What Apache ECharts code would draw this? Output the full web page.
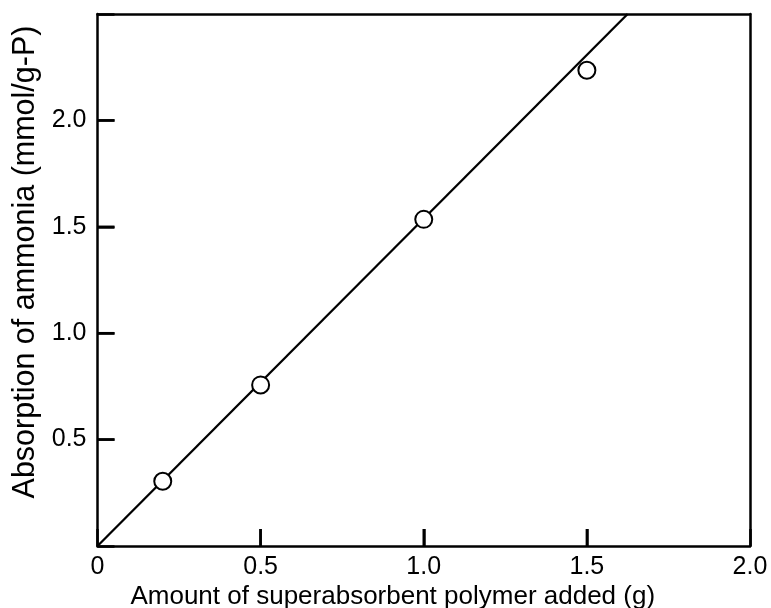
<!DOCTYPE html>
<html>
<head>
<meta charset="utf-8">
<script src="https://cdn.jsdelivr.net/npm/echarts@6/dist/echarts.min.js"></script>
<style>html,body{margin:0;padding:0;background:#fff}#c{width:771px;height:608px}</style>
</head>
<body>
<div id="c"></div>
<script>
var polymerAdded = [0.2, 0.5, 1.0, 1.5];
var ammoniaAbsorption = [0.304, 0.757, 1.535, 2.236];
var fitX = [0, 1.625];
var fitY = [0, 2.5];
var xTickValues = [0.5, 1.0, 1.5];
var yTickValues = [0.5, 1.0, 1.5, 2.0];
var xTickLabels = {0: '0', 0.5: '0.5', 1: '1.0', 1.5: '1.5', 2: '2.0'};
var yTickLabels = {0.5: '0.5', 1: '1.0', 1.5: '1.5', 2: '2.0'};

var font = 'Liberation Sans, Arial, sans-serif';
var lineW = 2.5;
var tickLen = 17;
var frameAxis = {
  type: 'value', min: 0, max: 2, interval: 0.5,
  axisLine: {show: true, onZero: false, lineStyle: {color: '#000', width: lineW}},
  axisTick: {show: false}, axisLabel: {show: false}, splitLine: {show: false}
};
var chart = echarts.init(document.getElementById('c'), null, {renderer: 'canvas'});
chart.setOption({
  animation: false,
  backgroundColor: '#fff',
  grid: {left: 97.5, right: 21, top: 14, bottom: 62,
         outerBounds: {left: -200, right: -200, top: -200, bottom: -200}},
  xAxis: [{
    type: 'value', min: 0, max: 2, interval: 0.5, position: 'bottom',
    name: 'Amount of superabsorbent polymer added (g)',
    nameLocation: 'middle', nameGap: 38, nameMoveOverlap: false,
    nameTextStyle: {fontFamily: font, fontSize: 26, color: '#000', padding: [0, 62, 0, 0]},
    axisLine: {show: true, onZero: false, lineStyle: {color: '#000', width: lineW}},
    axisTick: {show: true, inside: true, length: tickLen, lineStyle: {color: '#000', width: lineW}},
    axisLabel: {fontFamily: font, fontSize: 25, color: '#000', margin: 9,
      formatter: function (v) { return xTickLabels[v] !== undefined ? xTickLabels[v] : ''; }},
    splitLine: {show: false}
  }, Object.assign({}, frameAxis, {position: 'top'})],
  yAxis: [{
    type: 'value', min: 0, max: 2.5, interval: 0.5, position: 'left',
    name: 'Absorption of ammonia (mmol/g-P)',
    nameLocation: 'middle', nameGap: 56, nameMoveOverlap: false,
    nameTextStyle: {fontFamily: font, fontSize: 30.5, color: '#000', padding: [0, 0, 0, 36]},
    axisLine: {show: true, onZero: false, lineStyle: {color: '#000', width: lineW}},
    axisTick: {show: true, inside: true, length: tickLen, lineStyle: {color: '#000', width: lineW}},
    axisLabel: {fontFamily: font, fontSize: 25, color: '#000', margin: 11,
      formatter: function (v) { return yTickLabels[v] !== undefined ? yTickLabels[v] : ''; }},
    splitLine: {show: false}
  }, Object.assign({}, frameAxis, {max: 2.5, position: 'right'})],
  series: [
    {
      type: 'scatter',
      data: xTickValues.map(function (v) { return [v, 0]; }),
      symbol: 'rect', symbolSize: [lineW, tickLen], symbolOffset: [0, -tickLen / 2],
      itemStyle: {color: '#000', opacity: 1}, clip: false, silent: true, z: 4
    },
    {
      type: 'scatter',
      data: yTickValues.map(function (v) { return [0, v]; }),
      symbol: 'rect', symbolSize: [tickLen, lineW], symbolOffset: [tickLen / 2, 0],
      itemStyle: {color: '#000', opacity: 1}, clip: false, silent: true, z: 4
    },
    {
      type: 'line',
      data: fitX.map(function (x, i) { return [x, fitY[i]]; }),
      showSymbol: false, symbol: 'none',
      lineStyle: {color: '#000', width: 2.3},
      z: 2
    },
    {
      type: 'scatter',
      data: polymerAdded.map(function (x, i) { return [x, ammoniaAbsorption[i]]; }),
      symbol: 'circle', symbolSize: 17,
      itemStyle: {color: '#fff', borderColor: '#000', borderWidth: 2, opacity: 1},
      z: 3
    }
  ]
});
</script>
</body>
</html>
